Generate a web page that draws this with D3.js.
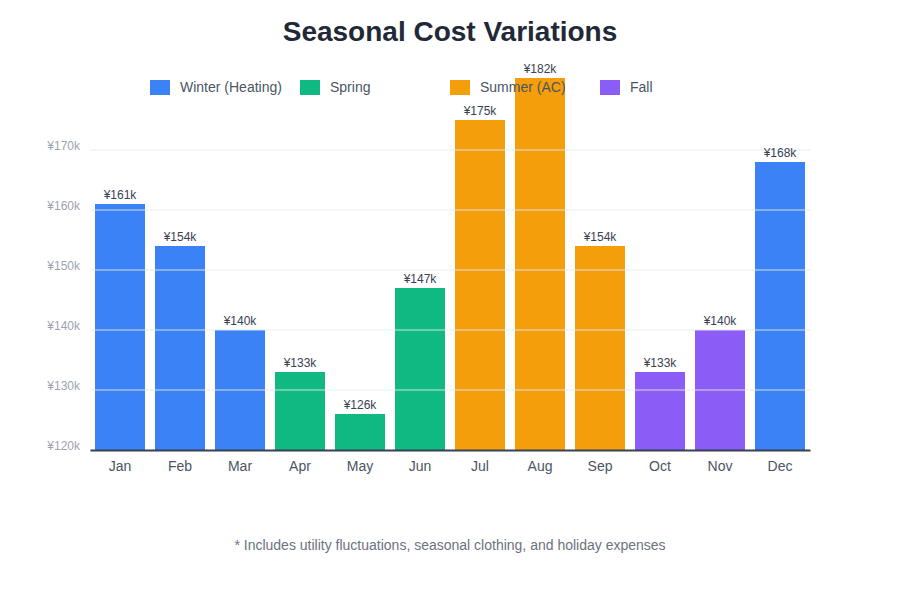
<!DOCTYPE html>
<html>
<head>
<meta charset="utf-8">
<script src="https://cdn.jsdelivr.net/npm/d3@7"></script>
<style>
  body { margin: 0; background: #fff; font-family: "Liberation Sans", Arial, sans-serif; }
</style>
</head>
<body>
<div id="chart"></div>
<script>
// data
var months = ["Jan", "Feb", "Mar", "Apr", "May", "Jun", "Jul", "Aug", "Sep", "Oct", "Nov", "Dec"];
var costs = [161, 154, 140, 133, 126, 147, 175, 182, 154, 133, 140, 168];
var seasons = ["Winter", "Winter", "Winter", "Spring", "Spring", "Spring", "Summer", "Summer", "Summer", "Fall", "Fall", "Winter"];
var seasonNames = ["Winter", "Spring", "Summer", "Fall"];
var legendLabels = ["Winter (Heating)", "Spring", "Summer (AC)", "Fall"];
var yTicks = [120, 130, 140, 150, 160, 170];

var width = 900, height = 600;
var margin = {top: 90, right: 90, bottom: 150, left: 90};

var color = d3.scaleOrdinal()
    .domain(seasonNames)
    .range(["#3b82f6", "#10b981", "#f59e0b", "#8b5cf6"]);

var svg = d3.select("#chart")
    .append("svg")
    .attr("width", width)
    .attr("height", height);

// title
svg.append("text")
    .attr("x", width / 2)
    .attr("y", 41)
    .attr("text-anchor", "middle")
    .attr("font-size", 28)
    .attr("font-weight", "bold")
    .attr("fill", "#1f2937")
    .text("Seasonal Cost Variations");

// scales
var x = d3.scaleBand()
    .domain(months)
    .range([margin.left, width - margin.right])
    .paddingInner(1 / 6)
    .paddingOuter(1 / 12);

var y = d3.scaleLinear()
    .domain([120, 170])
    .range([450, 150]);

// y labels
svg.selectAll(".ylabel")
    .data(yTicks)
    .enter()
    .append("text")
    .attr("class", "ylabel")
    .attr("x", 80)
    .attr("y", function(d) { return y(d); })
    .attr("text-anchor", "end")
    .attr("font-size", 12)
    .attr("fill", "#9ca3af")
    .text(function(d) { return "¥" + d + "k"; });

// bars
svg.selectAll(".bar")
    .data(costs)
    .enter()
    .append("rect")
    .attr("class", "bar")
    .attr("x", function(d, i) { return x(months[i]); })
    .attr("y", function(d) { return y(d); })
    .attr("width", x.bandwidth())
    .attr("height", function(d) { return y(120) - y(d); })
    .attr("fill", function(d, i) { return color(seasons[i]); });

// gridlines on top of the bars
svg.selectAll(".grid")
    .data(yTicks.slice(1))
    .enter()
    .append("line")
    .attr("class", "grid")
    .attr("x1", margin.left)
    .attr("x2", width - margin.right)
    .attr("y1", function(d) { return y(d); })
    .attr("y2", function(d) { return y(d); })
    .attr("stroke", "#e5e7eb")
    .attr("stroke-opacity", 0.6)
    .attr("stroke-width", 1.5);

// value labels
svg.selectAll(".value")
    .data(costs)
    .enter()
    .append("text")
    .attr("class", "value")
    .attr("x", function(d, i) { return x(months[i]) + x.bandwidth() / 2; })
    .attr("y", function(d) { return y(d) - 5; })
    .attr("text-anchor", "middle")
    .attr("font-size", 12)
    .attr("fill", "#374151")
    .text(function(d) { return "¥" + d + "k"; });

// x axis
var xAxis = d3.axisBottom(x).tickSize(0).tickPadding(11);
var gx = svg.append("g")
    .attr("transform", "translate(0," + y(120) + ")")
    .call(xAxis);
gx.select(".domain").attr("stroke", "#374151").attr("stroke-width", 2);
gx.selectAll("text")
    .attr("font-size", 14)
    .attr("font-family", "Liberation Sans, Arial, sans-serif")
    .attr("fill", "#4b5563");

// legend
var legend = svg.selectAll(".legend")
    .data(seasonNames)
    .enter()
    .append("g")
    .attr("class", "legend")
    .attr("transform", function(d, i) { return "translate(" + (150 + i * 150) + ",80)"; });

legend.append("rect")
    .attr("width", 20)
    .attr("height", 15)
    .attr("fill", function(d) { return color(d); });

legend.append("text")
    .attr("x", 30)
    .attr("y", 12)
    .attr("font-size", 14)
    .attr("fill", "#4b5563")
    .text(function(d, i) { return legendLabels[i]; });

// footnote
svg.append("text")
    .attr("x", width / 2)
    .attr("y", 550)
    .attr("text-anchor", "middle")
    .attr("font-size", 14)
    .attr("fill", "#6b7280")
    .text("* Includes utility fluctuations, seasonal clothing, and holiday expenses");
</script>
</body>
</html>
